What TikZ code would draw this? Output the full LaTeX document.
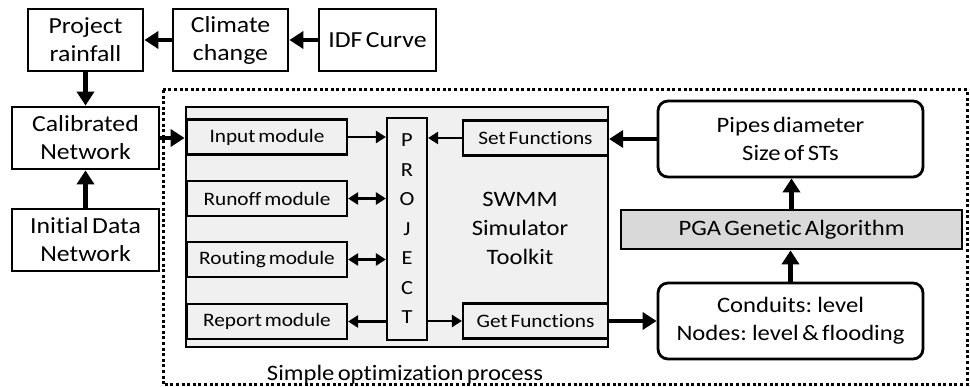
\documentclass[tikz,border=0pt]{standalone}
\usepackage{fontspec}
\setmainfont{Carlito}[FakeStretch=1.12,WordSpace=0.6,Ligatures=NoCommon]
\usetikzlibrary{arrows.meta}
\definecolor{lightbox}{RGB}{240,240,240}
\definecolor{algobox}{RGB}{217,217,217}
\tikzstyle{block}=[draw,line width=2.8pt,minimum width=115pt,minimum height=62pt,align=center,inner sep=2pt,font=\fontsize{23}{28}\selectfont]
\tikzstyle{module}=[draw,fill=lightbox,line width=2.2pt,minimum width=160pt,minimum height=35pt,inner sep=2pt,font=\fontsize{19}{24}\selectfont]
\tikzstyle{result}=[block,rounded corners=10pt,minimum width=265pt,minimum height=76pt,font=\fontsize{22}{28}\selectfont]
\tikzstyle{big arrow}=[line width=4.4pt,-{Triangle[length=14pt,width=17pt]}]
\tikzstyle{small arrow}=[line width=2.6pt,-{Triangle[length=10pt,width=12pt]}]
\tikzstyle{both arrow}=[line width=2.6pt,{Triangle[length=10pt,width=12pt]}-{Triangle[length=10pt,width=12pt]}]

\begin{document}
\begin{tikzpicture}[x=1pt,y=-1pt]
    \useasboundingbox (0,0) rectangle (970,387);
    % rainfall chain on top
    \node[block] (rain) at (85.5,40) {Project\\rainfall};
    \node[block] (climate) at (230.5,40) {Climate\\change};
    \node[block,minimum width=117pt] (idf) at (377.5,40) {IDF Curve};
    \node[block,minimum width=147pt] (calib) at (85.5,138) {Calibrated\\Network};
    \node[block,minimum width=147pt] (init) at (85.5,240) {Initial Data\\Network};

    % optimization frame
    \draw[line width=3pt,dash pattern=on 3pt off 2.6pt] (163,90) rectangle (967,385);
    \node[font=\fontsize{22}{24}\selectfont] (simple) at (405,375) {Simple optimization process};

    % SWMM toolkit
    \node[draw,fill=lightbox,line width=2.8pt,minimum width=422pt,minimum height=240pt] (swmm) at (397,227) {};
    \node[align=center,font=\fontsize{22}{29}\selectfont] (toolkit) at (520,228) {SWMM\\Simulator\\Toolkit};
    \node[module] (input) at (267,137) {Input module};
    \node[module] (runoff) at (267,198.5) {Runoff module};
    \node[module] (routing) at (267,259.5) {Routing module};
    \node[module] (report) at (267,321.5) {Report module};
    \node[draw,fill=lightbox,line width=2.2pt,minimum width=40pt,minimum height=222pt,align=center,inner sep=0pt,
          font=\fontsize{20}{29.5}\selectfont] (project) at (407,229) {P\\R\\O\\J\\E\\C\\T};
    \node[module,minimum width=145pt] (set) at (535.5,138) {Set Functions};
    \node[module,minimum width=145pt] (get) at (535.5,321) {Get Functions};

    % optimization side
    \node[result] (pipes) at (790.5,139) {Pipes diameter\\Size of STs};
    \node[block,fill=algobox,minimum width=341pt,minimum height=39pt,font=\fontsize{22}{26}\selectfont] (pga) at (791.5,229.5) {PGA Genetic Algorithm};
    \node[result] (cond) at (790.5,321) {Conduits: level\\Nodes: level \& flooding};

    % Connect blocks
    \draw[big arrow] (idf) -- (climate);
    \draw[big arrow] (climate) -- (rain);
    \draw[big arrow] (rain) -- (calib);
    \draw[big arrow] (init) -- (calib);
    \draw[big arrow] (calib.east) -- (calib.east -| swmm.west);
    \draw[big arrow] (pipes.west) -- (pipes.west -| set.east);
    \draw[big arrow] (get.east) -- (get.east -| cond.west);
    \draw[big arrow] (cond.north) -- (cond.north |- pga.south);
    \draw[big arrow] (pga.north) -- (pga.north |- pipes.south);

    % inside the toolkit
    \draw[small arrow] (input.east) -- (input.east -| project.west);
    \draw[both arrow] (runoff.east) -- (runoff.east -| project.west);
    \draw[both arrow] (routing.east) -- (routing.east -| project.west);
    \draw[small arrow] (project.west |- report.east) -- (report.east);
    \draw[small arrow] (set.west) -- (set.west -| project.east);
    \draw[small arrow] (project.east |- get.west) -- (get.west);
\end{tikzpicture}
\end{document}
